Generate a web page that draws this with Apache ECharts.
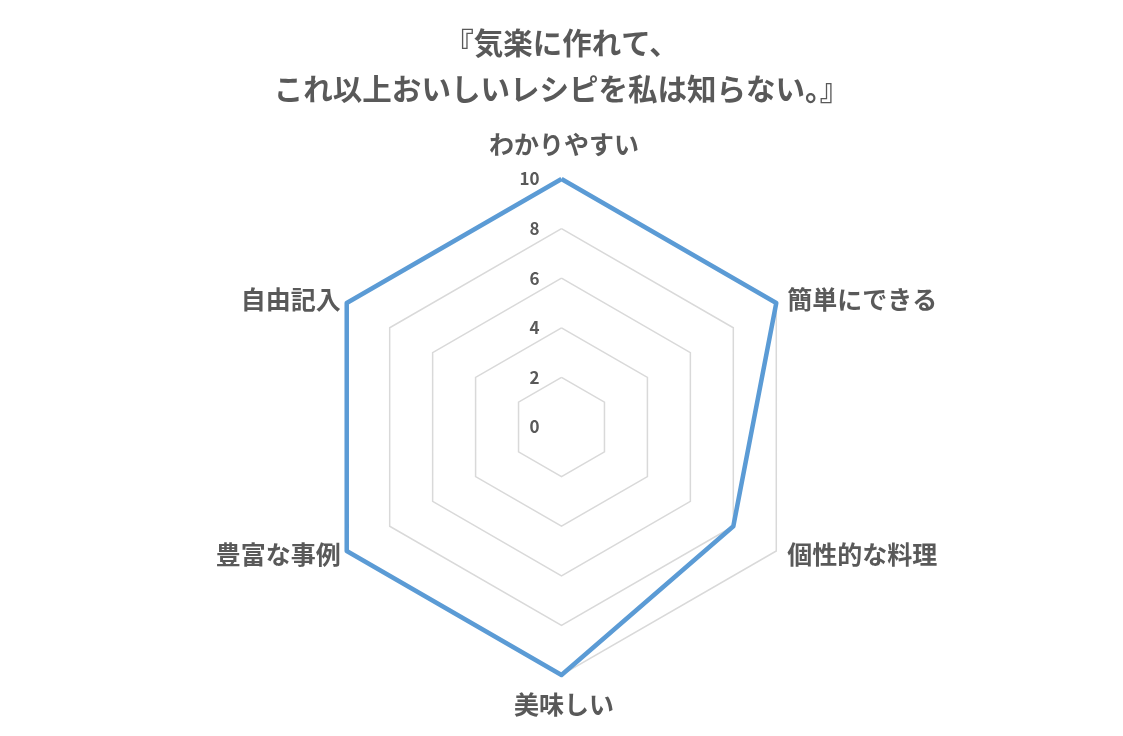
<!DOCTYPE html>
<html>
<head>
<meta charset="utf-8">
<script src="https://cdn.jsdelivr.net/npm/echarts@6/dist/echarts.min.js"></script>
<style>
  html, body { margin: 0; padding: 0; background: #fff; }
  #chart { width: 1123px; height: 736px; }
</style>
</head>
<body>
<div id="chart"></div>
<script>
// indicators in ECharts order (counter-clockwise from the top)
const categories = ["わかりやすい", "自由記入", "豊富な事例", "美味しい", "個性的な料理", "簡単にできる"];
const scores = [10, 10, 10, 10, 8, 10];
const maxScore = 10;
const titleLines = ["『気楽に作れて、", "これ以上おいしいレシピを私は知らない。』"];

const textColor = "#595959";
const font = '"Noto Sans CJK JP", "Noto Sans", sans-serif';

const myChart = echarts.init(document.getElementById("chart"));

const indicators = categories.map(function (name, i) {
  // only the top axis carries the scale labels
  return { name: name, max: maxScore, min: 0, axisLabel: { show: i === 0 } };
});

const options = {
  backgroundColor: "#fff",
  title: {
    text: titleLines.join("\n"),
    left: "center",
    top: 15,
    textStyle: {
      fontFamily: font,
      fontSize: 29.5,
      fontWeight: "bold",
      color: textColor,
      lineHeight: 46
    }
  },
  radar: {
    center: [561.5, 427],
    radius: 248,
    shape: "polygon",
    startAngle: 90,
    splitNumber: 5,
    indicator: indicators,
    nameGap: 7,
    axisName: {
      fontFamily: font,
      fontSize: 25,
      fontWeight: "bold",
      color: textColor,
      padding: [9.5, 0, 14.5, 5]
    },
    axisLine: { show: false },
    axisTick: { show: false },
    splitArea: { show: false },
    splitLine: {
      lineStyle: { color: "#d9d9d9", width: 1.5 }
    },
    axisLabel: {
      show: false,
      margin: 22,
      fontFamily: font,
      fontSize: 17,
      fontWeight: "bold",
      color: textColor
    }
  },
  series: [
    {
      type: "radar",
      symbol: "none",
      lineStyle: { color: "#5b9bd5", width: 4.5 },
      data: [{ value: scores, name: "score" }]
    }
  ]
};

myChart.setOption(options);
</script>
</body>
</html>
